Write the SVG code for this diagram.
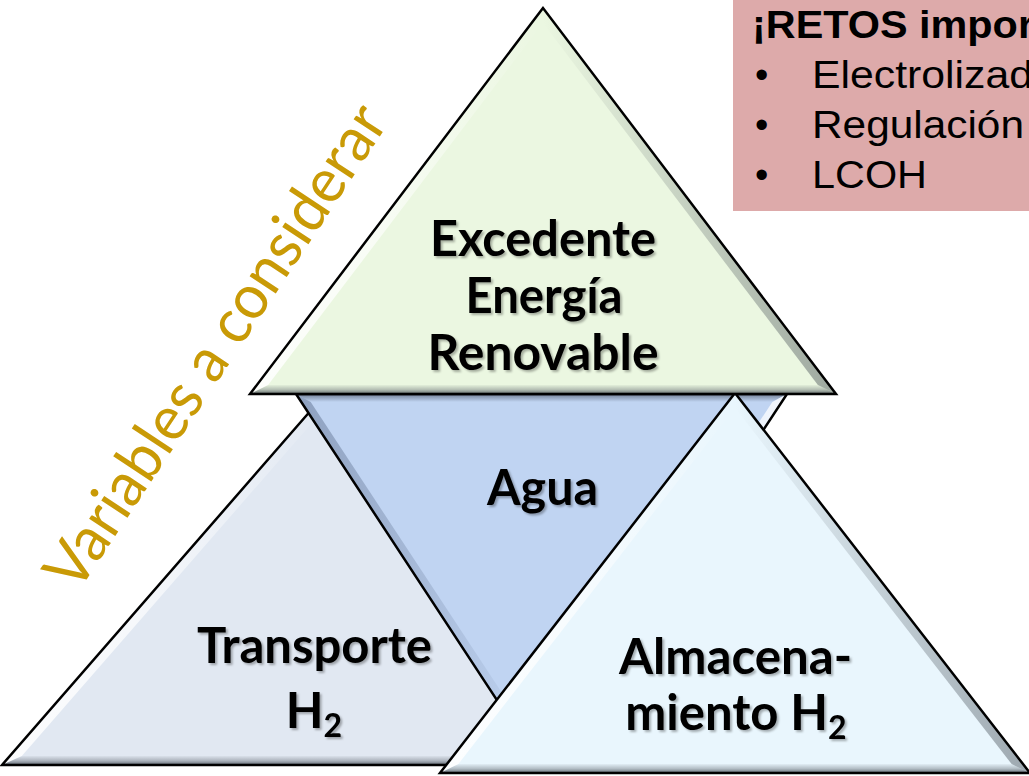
<svg xmlns="http://www.w3.org/2000/svg" width="1029" height="776" viewBox="0 0 1029 776">
<defs>
<style>
.edge{stroke:#000;stroke-width:2.5;stroke-linejoin:miter}
.lbl{font-family:Lato,"Liberation Sans",sans-serif;font-weight:bold;font-size:49px;fill:#000;text-anchor:middle}
.box{font-family:"Liberation Sans",Arial,sans-serif;font-size:38px;fill:#000}
</style>
<linearGradient id="gL" x1="1" y1="0" x2="0" y2="0"><stop offset="0" stop-color="#fff" stop-opacity="0"/><stop offset="0.6" stop-color="#fff" stop-opacity="0.7"/><stop offset="1" stop-color="#fff" stop-opacity="0.9"/></linearGradient>
<linearGradient id="gR" x1="0" y1="0" x2="1" y2="0"><stop offset="0" stop-color="#404850" stop-opacity="0"/><stop offset="1" stop-color="#404850" stop-opacity="0.45"/></linearGradient>
<linearGradient id="gB" x1="0" y1="0" x2="0" y2="1"><stop offset="0" stop-color="#505860" stop-opacity="0.05"/><stop offset="0.5" stop-color="#505860" stop-opacity="0.35"/><stop offset="1" stop-color="#303840" stop-opacity="0.75"/></linearGradient>
<linearGradient id="gT" x1="0" y1="0" x2="0" y2="1"><stop offset="0" stop-color="#303848" stop-opacity="0.55"/><stop offset="1" stop-color="#303848" stop-opacity="0"/></linearGradient>
<linearGradient id="gBL" x1="1" y1="0" x2="0" y2="0"><stop offset="0" stop-color="#304060" stop-opacity="0"/><stop offset="1" stop-color="#304060" stop-opacity="0.35"/></linearGradient>
<linearGradient id="gBR" x1="0" y1="0" x2="1" y2="0"><stop offset="0" stop-color="#fff" stop-opacity="0.1"/><stop offset="1" stop-color="#fff" stop-opacity="0.8"/></linearGradient>
<filter id="ts" x="-10%" y="-20%" width="120%" height="140%"><feDropShadow dx="2" dy="2" stdDeviation="1.2" flood-color="#000" flood-opacity="0.3"/></filter>
</defs>
<rect width="1029" height="776" fill="#fff"/>

<g id="box-retos">
<rect x="733" y="-2" width="300" height="213" fill="#DDAAAA"/>
<text class="box" x="752" y="38" font-size="36" font-weight="bold" textLength="282" lengthAdjust="spacingAndGlyphs">¡RETOS impor</text>
<text class="box" x="755" y="88">•</text>
<text class="box" x="812" y="88" textLength="221" lengthAdjust="spacingAndGlyphs">Electrolizad</text>
<text class="box" x="755" y="138">•</text>
<text class="box" x="812" y="138" textLength="212" lengthAdjust="spacingAndGlyphs">Regulación</text>
<text class="box" x="755" y="188">•</text>
<text class="box" x="812" y="188" textLength="115" lengthAdjust="spacingAndGlyphs">LCOH</text>
</g>

<g id="label-variables">
<text transform="translate(77,594) rotate(-56.5)" font-family="Lato,'Liberation Sans',sans-serif" font-size="62" fill="#C99A06" textLength="566" lengthAdjust="spacingAndGlyphs">Variables a considerar</text>
</g>

<g id="node-transporte">
<polygon points="333,385 2,765 664,765" fill="#E1E8F2"/>
<polygon points="333,385 2,765 21.8,756 333,398.7" fill="url(#gL)"/>
<polygon points="2,765 664,765 644.2,756 21.8,756" fill="url(#gB)"/>
<polygon points="333,385 2,765 664,765" fill="none" class="edge"/>
</g>

<g id="node-agua">
<polygon points="296,394 787,394 541.5,768" fill="#C0D4F2"/>
<polygon points="296,394 787,394 772.3,402 310.7,402" fill="url(#gT)"/>
<polygon points="296,394 310.7,402 541.5,753 541.5,768" fill="url(#gBL)"/>
<polygon points="787,394 541.5,768 541.5,753 772.3,402" fill="url(#gBR)"/>
<polygon points="296,394 787,394 541.5,768" fill="none" class="edge"/>
</g>

<g id="node-almacenamiento">
<polygon points="735,393 440,773 1030,773" fill="#E9F6FD"/>
<polygon points="735,393 440,773 458.4,764 735,407.7" fill="url(#gL)"/>
<polygon points="735,393 735,407.7 1011.6,764 1030,773" fill="url(#gR)"/>
<polygon points="440,773 1030,773 1011.6,764 458.4,764" fill="url(#gB)"/>
<polygon points="735,393 440,773 1030,773" fill="none" class="edge"/>
</g>

<g id="node-excedente">
<polygon points="543,8 250,394 836,394" fill="#EBF7E1"/>
<polygon points="543,8 250,394 268.1,385 543,22.9" fill="url(#gL)"/>
<polygon points="543,8 543,22.9 817.9,385 836,394" fill="url(#gR)"/>
<polygon points="250,394 836,394 817.9,385 268.1,385" fill="url(#gB)"/>
<polygon points="543,8 250,394 836,394" fill="none" class="edge"/>
</g>

<g id="labels" filter="url(#ts)">
<text class="lbl" x="543" y="256" textLength="226" lengthAdjust="spacingAndGlyphs">Excedente</text>
<text class="lbl" x="544" y="313" textLength="157" lengthAdjust="spacingAndGlyphs">Energía</text>
<text class="lbl" x="543" y="370" textLength="231" lengthAdjust="spacingAndGlyphs">Renovable</text>
<text class="lbl" x="542.5" y="505" textLength="111" lengthAdjust="spacingAndGlyphs">Agua</text>
<text class="lbl" x="314.5" y="663" textLength="235" lengthAdjust="spacingAndGlyphs">Transporte</text>
<text class="lbl" x="314" y="728">H<tspan font-size="32" dy="9">2</tspan></text>
<text class="lbl" x="735.5" y="674" textLength="233" lengthAdjust="spacingAndGlyphs">Almacena-</text>
<text class="lbl" x="736" y="730">miento H<tspan font-size="32" dy="9">2</tspan></text>
</g>
</svg>
